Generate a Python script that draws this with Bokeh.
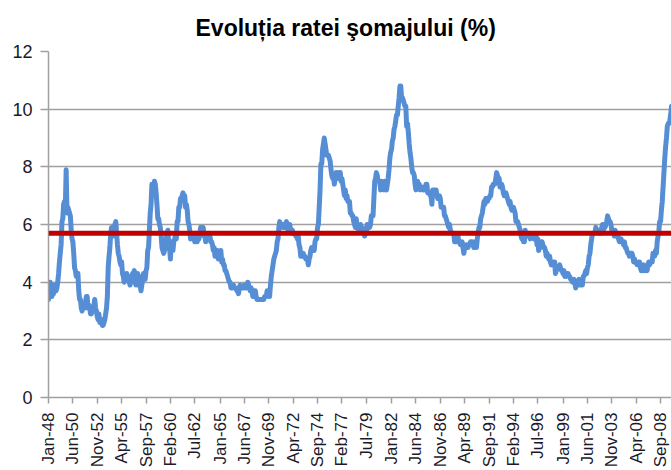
import math
from bokeh.plotting import figure
from bokeh.models import Span, FixedTicker, Range1d, ColumnDataSource
from bokeh.embed import file_html
from bokeh.resources import INLINE

# Monthly unemployment rate (%) (Jan 1948 onward)
rate_1948_1959 = [
    3.4, 3.8, 4.0, 3.9, 3.5, 3.6, 3.6, 3.9, 3.8, 3.7, 3.8, 4.0,
    4.3, 4.7, 5.0, 5.3, 6.1, 6.2, 6.7, 6.8, 6.6, 7.9, 6.4, 6.6,
    6.5, 6.4, 6.3, 5.8, 5.5, 5.4, 5.0, 4.5, 4.4, 4.2, 4.2, 4.3,
    3.7, 3.4, 3.4, 3.1, 3.0, 3.2, 3.1, 3.1, 3.3, 3.5, 3.5, 3.1,
    3.2, 3.1, 2.9, 2.9, 3.0, 3.0, 3.2, 3.4, 3.1, 3.0, 2.8, 2.7,
    2.9, 2.6, 2.6, 2.7, 2.5, 2.5, 2.6, 2.7, 2.9, 3.1, 3.5, 4.5,
    4.9, 5.2, 5.7, 5.9, 5.9, 5.6, 5.8, 6.0, 6.1, 5.7, 5.3, 5.0,
    4.9, 4.7, 4.6, 4.7, 4.3, 4.2, 4.0, 4.2, 4.1, 4.3, 4.2, 4.2,
    4.0, 3.9, 4.2, 4.0, 4.3, 4.3, 4.4, 4.1, 3.9, 3.9, 4.3, 4.2,
    4.2, 3.9, 3.7, 3.9, 4.1, 4.3, 4.2, 4.1, 4.4, 4.5, 5.1, 5.2,
    5.8, 6.4, 6.7, 7.4, 7.4, 7.3, 7.5, 7.4, 7.1, 6.7, 6.2, 6.2,
    6.0, 5.9, 5.6, 5.2, 5.1, 5.0, 5.1, 5.2, 5.5, 5.7, 5.8, 5.3,
]
rate_1960_1969 = [
    5.2, 4.8, 5.4, 5.2, 5.1, 5.4, 5.5, 5.6, 5.5, 6.1, 6.1, 6.6,
    6.6, 6.9, 6.9, 7.0, 7.1, 6.9, 7.0, 6.6, 6.7, 6.5, 6.1, 6.0,
    5.8, 5.5, 5.6, 5.6, 5.5, 5.5, 5.4, 5.7, 5.6, 5.4, 5.7, 5.5,
    5.7, 5.9, 5.7, 5.7, 5.9, 5.6, 5.6, 5.4, 5.5, 5.5, 5.7, 5.5,
    5.6, 5.4, 5.4, 5.3, 5.1, 5.2, 4.9, 5.0, 5.1, 5.1, 4.8, 5.0,
    4.9, 5.1, 4.7, 4.8, 4.6, 4.6, 4.4, 4.4, 4.3, 4.2, 4.1, 4.0,
    4.0, 3.8, 3.8, 3.8, 3.9, 3.8, 3.8, 3.8, 3.7, 3.7, 3.6, 3.8,
    3.9, 3.8, 3.8, 3.8, 3.8, 3.9, 3.8, 3.8, 3.8, 4.0, 3.9, 3.8,
    3.7, 3.8, 3.7, 3.5, 3.5, 3.7, 3.7, 3.5, 3.4, 3.4, 3.4, 3.4,
    3.4, 3.4, 3.4, 3.4, 3.4, 3.5, 3.5, 3.5, 3.7, 3.7, 3.5, 3.5,
]
rate_1970_1979 = [
    3.9, 4.2, 4.4, 4.6, 4.8, 4.9, 5.0, 5.1, 5.4, 5.5, 5.9, 6.1,
    5.9, 5.9, 6.0, 5.9, 5.9, 5.9, 6.0, 6.1, 6.0, 5.8, 6.0, 6.0,
    5.8, 5.7, 5.8, 5.7, 5.7, 5.7, 5.6, 5.6, 5.5, 5.6, 5.3, 5.2,
    4.9, 5.0, 4.9, 5.0, 4.9, 4.9, 4.8, 4.8, 4.8, 4.6, 4.8, 4.9,
    5.1, 5.2, 5.1, 5.1, 5.1, 5.4, 5.5, 5.5, 5.9, 6.0, 6.6, 7.2,
    8.1, 8.1, 8.6, 8.8, 9.0, 8.8, 8.6, 8.4, 8.4, 8.4, 8.3, 8.2,
    7.9, 7.7, 7.6, 7.7, 7.4, 7.6, 7.8, 7.8, 7.6, 7.7, 7.8, 7.8,
    7.5, 7.6, 7.4, 7.2, 7.0, 7.2, 6.9, 7.0, 6.8, 6.8, 6.8, 6.4,
    6.4, 6.3, 6.3, 6.1, 6.0, 5.9, 6.2, 5.9, 6.0, 5.8, 5.9, 6.0,
    5.9, 5.9, 5.8, 5.8, 5.6, 5.7, 5.7, 6.0, 5.9, 6.0, 5.9, 6.0,
]
rate_1980_1989 = [
    6.3, 6.3, 6.3, 6.9, 7.5, 7.6, 7.8, 7.7, 7.5, 7.5, 7.5, 7.2,
    7.5, 7.4, 7.4, 7.2, 7.5, 7.5, 7.2, 7.4, 7.6, 7.9, 8.3, 8.5,
    8.6, 8.9, 9.0, 9.3, 9.4, 9.6, 9.8, 9.8, 10.1, 10.4, 10.8, 10.8,
    10.4, 10.4, 10.3, 10.2, 10.1, 10.1, 9.4, 9.5, 9.2, 8.8, 8.5, 8.3,
    8.0, 7.8, 7.8, 7.7, 7.4, 7.2, 7.5, 7.5, 7.3, 7.4, 7.2, 7.3,
    7.3, 7.2, 7.2, 7.3, 7.2, 7.4, 7.4, 7.1, 7.1, 7.1, 7.0, 7.0,
    6.7, 7.2, 7.2, 7.1, 7.2, 7.2, 7.0, 6.9, 7.0, 7.0, 6.9, 6.6,
    6.6, 6.6, 6.6, 6.3, 6.3, 6.2, 6.1, 6.0, 5.9, 6.0, 5.8, 5.7,
    5.7, 5.7, 5.7, 5.4, 5.6, 5.4, 5.4, 5.6, 5.4, 5.4, 5.3, 5.3,
    5.4, 5.2, 5.0, 5.2, 5.2, 5.3, 5.2, 5.2, 5.3, 5.3, 5.4, 5.4,
]
rate_1990_1999 = [
    5.4, 5.3, 5.2, 5.4, 5.4, 5.2, 5.5, 5.7, 5.9, 5.9, 6.2, 6.3,
    6.4, 6.6, 6.8, 6.7, 6.9, 6.9, 6.8, 6.9, 6.9, 7.0, 7.0, 7.3,
    7.3, 7.4, 7.4, 7.4, 7.6, 7.8, 7.7, 7.6, 7.6, 7.3, 7.4, 7.4,
    7.3, 7.1, 7.0, 7.1, 7.1, 7.0, 6.9, 6.8, 6.7, 6.8, 6.6, 6.5,
    6.6, 6.6, 6.5, 6.4, 6.1, 6.1, 6.1, 6.0, 5.9, 5.8, 5.6, 5.5,
    5.6, 5.4, 5.4, 5.8, 5.6, 5.6, 5.7, 5.7, 5.6, 5.5, 5.6, 5.6,
    5.6, 5.5, 5.5, 5.6, 5.6, 5.3, 5.5, 5.1, 5.2, 5.2, 5.4, 5.4,
    5.3, 5.2, 5.2, 5.1, 4.9, 5.0, 4.9, 4.8, 4.9, 4.7, 4.6, 4.7,
    4.6, 4.6, 4.7, 4.3, 4.4, 4.5, 4.5, 4.5, 4.6, 4.5, 4.4, 4.4,
    4.3, 4.4, 4.2, 4.3, 4.2, 4.3, 4.3, 4.2, 4.2, 4.1, 4.1, 4.0,
]
rate_2000_2009 = [
    4.0, 4.1, 4.0, 3.8, 4.0, 4.0, 4.0, 4.1, 3.9, 3.9, 3.9, 3.9,
    4.2, 4.2, 4.3, 4.4, 4.3, 4.5, 4.6, 4.9, 5.0, 5.3, 5.5, 5.7,
    5.7, 5.7, 5.7, 5.9, 5.8, 5.8, 5.8, 5.7, 5.7, 5.7, 5.9, 6.0,
    5.8, 5.9, 5.9, 6.0, 6.1, 6.3, 6.2, 6.1, 6.1, 6.0, 5.8, 5.7,
    5.7, 5.6, 5.8, 5.6, 5.6, 5.6, 5.5, 5.4, 5.4, 5.5, 5.4, 5.4,
    5.3, 5.4, 5.2, 5.2, 5.1, 5.0, 5.0, 4.9, 5.0, 5.0, 5.0, 4.9,
    4.7, 4.8, 4.7, 4.7, 4.6, 4.6, 4.7, 4.7, 4.5, 4.4, 4.5, 4.4,
    4.6, 4.5, 4.4, 4.5, 4.4, 4.6, 4.7, 4.6, 4.7, 4.7, 4.7, 5.0,
    5.0, 4.9, 5.1, 5.0, 5.4, 5.6, 5.8, 6.1, 6.1, 6.5, 6.8, 7.3,
    7.8, 8.3, 8.7, 9.0, 9.4, 9.5, 9.5, 9.6, 9.8, 10.1,
]

average_rate = 5.7  # red horizontal line

tick_labels = ["Jan-48", "Jun-50", "Nov-52", "Apr-55", "Sep-57", "Feb-60",
               "Jul-62", "Jan-65", "Jun-67", "Nov-69", "Apr-72", "Sep-74",
               "Feb-77", "Jul-79", "Jan-82", "Jun-84", "Nov-86", "Apr-89",
               "Sep-91", "Feb-94", "Jul-96", "Jan-99", "Jun-01", "Nov-03",
               "Apr-06", "Sep-08"]
y_ticks = [0, 2, 4, 6, 8, 10, 12]

title_text = "Evoluția ratei şomajului (%)"

rate = (rate_1948_1959 + rate_1960_1969 + rate_1970_1979 +
        rate_1980_1989 + rate_1990_1999 + rate_2000_2009)
month_idx = list(range(len(rate)))

MONTHS = ["Jan", "Feb", "Mar", "Apr", "May", "Jun", "Jul", "Aug", "Sep",
          "Oct", "Nov", "Dec"]


def label_to_index(lbl):
    m, y = lbl.split("-")
    yy = int(y)
    year = 1900 + yy if yy >= 40 else 2000 + yy
    return (year - 1948) * 12 + MONTHS.index(m)


tick_pos = [label_to_index(l) for l in tick_labels]

src = ColumnDataSource(dict(x=month_idx, y=rate))

p = figure(width=671, height=470, output_backend="svg", toolbar_location=None,
           x_range=Range1d(0, len(rate) - 1), y_range=Range1d(0, 12),
           min_border_left=48, min_border_right=0, min_border_top=51,
           min_border_bottom=72)
p.outline_line_color = None
p.background_fill_color = "white"
p.border_fill_color = "white"

p.title.text = title_text
p.title.align = "left"
p.title.offset = 147
p.title.text_font = "Liberation Sans"
p.title.text_font_size = "23px"
p.title.text_font_style = "bold"
p.title.text_color = "black"
p.title.standoff = 21

p.line("x", "y", source=src, line_color="#558ED5", line_width=5,
       line_join="round", line_cap="round")

p.add_layout(Span(location=average_rate, dimension="width",
                  line_color="#C00000", line_width=5))

grid_col = "#A0A0A0"
p.xgrid.grid_line_color = None
p.ygrid.grid_line_color = grid_col
p.ygrid.grid_line_width = 1.5

p.yaxis.ticker = FixedTicker(ticks=y_ticks)
p.yaxis.axis_line_color = grid_col
p.yaxis.axis_line_width = 1.5
p.yaxis.major_tick_line_color = grid_col
p.yaxis.major_tick_line_width = 1.5
p.yaxis.major_tick_out = 8
p.yaxis.major_tick_in = 0
p.yaxis.minor_tick_line_color = None
p.yaxis.major_label_standoff = 8
p.yaxis.major_label_text_font = "Liberation Sans"
p.yaxis.major_label_text_font_size = "18px"
p.yaxis.major_label_text_color = "#1a1a2a"

p.xaxis.ticker = FixedTicker(ticks=tick_pos)
p.xaxis.major_label_overrides = {pos: lbl for pos, lbl in zip(tick_pos, tick_labels)}
p.xaxis.major_label_orientation = math.pi / 2
p.xaxis.axis_line_color = grid_col
p.xaxis.axis_line_width = 1.5
p.xaxis.major_tick_line_color = grid_col
p.xaxis.major_tick_line_width = 1.5
p.xaxis.major_tick_out = 6
p.xaxis.major_tick_in = 0
p.xaxis.minor_tick_line_color = None
p.xaxis.major_label_standoff = 9
p.xaxis.major_label_text_font = "Liberation Sans"
p.xaxis.major_label_text_font_size = "17px"
p.xaxis.major_label_text_color = "#1a1a2a"

open("out.html", "w").write(file_html(p, INLINE))
